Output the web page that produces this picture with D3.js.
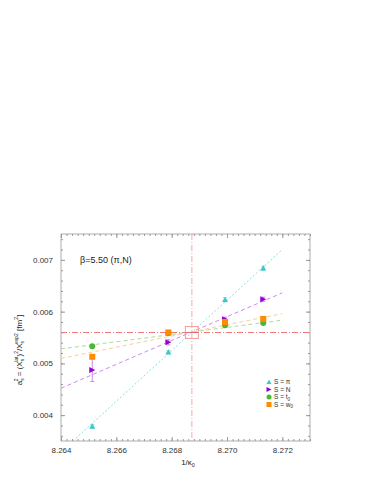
<!DOCTYPE html>
<html>
<head>
<meta charset="utf-8">
<script src="https://cdn.jsdelivr.net/npm/d3@7"></script>
<style>
  body { margin: 0; background: #fff; }
  text { font-family: "Liberation Sans", Arial, sans-serif; }
</style>
</head>
<body>
<svg id="chart" width="382" height="494"></svg>
<script>
// kappa values (1/kappa_0) of the simulations
const xs = [8.26513, 8.26788, 8.26993, 8.27131]

// a_s^2 for each choice of S, with errors
const piVals = [0.003784, 0.005216, 0.00623, 0.00684]
const piErrs = [0.00003, 0.00003, 0.00004, 0.00004]
const nVals = [0.00487, 0.005407, 0.005853, 0.00624]
const nErrs = [0.00022, 0.00005, 0.00004, 0.00004]
const t0Vals = [0.00533, 0.00558, 0.005738, 0.005782]
const t0Errs = [0.00002, 0.00002, 0.00002, 0.00002]
const w0Vals = [0.005128, 0.005598, 0.0058, 0.005859]
const w0Errs = [0.00003, 0.00002, 0.00002, 0.00002]

// linear fits: value at x = 8.264 and at x = 8.272
const fitX = [8.264, 8.272]
const piFit = [0.00329, 0.0072]
const nFit = [0.00452, 0.006363]
const t0Fit = [0.00528, 0.005834]
const w0Fit = [0.005096, 0.005962]

// crossing point
const crossX = 8.26873
const crossY = 0.005615

const xTicks = [8.264, 8.266, 8.268, 8.270, 8.272]
const yTicks = [0.004, 0.005, 0.006, 0.007]

const series = [
    {label: "S = π", sub: "", vals: piVals, errs: piErrs, fit: piFit, color: "#3cc8c8", lineColor: "#8ee0e0", dash: "2,2", shape: "tri"},
    {label: "S = N", sub: "", vals: nVals, errs: nErrs, fit: nFit, color: "#9400d3", lineColor: "#cc88ee", dash: "4,3", shape: "right"},
    {label: "S = t", sub: "0", vals: t0Vals, errs: t0Errs, fit: t0Fit, color: "#44bb33", lineColor: "#aadd99", dash: "4,3", shape: "circle"},
    {label: "S = w", sub: "0", vals: w0Vals, errs: w0Errs, fit: w0Fit, color: "#ff8c00", lineColor: "#ffcc99", dash: "4,3", shape: "square"}
]

const svg = d3.select("#chart")
const mLeft = 61, mRight = 310, mTop = 234, mBottom = 441

const x = d3.scaleLinear().domain([8.264, 8.273]).range([mLeft, mRight])
const y = d3.scaleLinear().domain([0.0035, 0.0075]).range([mBottom, mTop])

svg.append("clipPath").attr("id", "clip")
    .append("rect")
    .attr("x", mLeft).attr("y", mTop)
    .attr("width", mRight - mLeft).attr("height", mBottom - mTop)

// axes with inward ticks on all four sides
const minorX = d3.range(8.264, 8.2731, 0.0002)
const minorY = d3.range(0.0036, 0.00751, 0.0002)
const axisColor = "#999"

function styleAxis(g) {
    g.select(".domain").remove()
    g.selectAll("line").attr("stroke", axisColor)
    g.selectAll("text").attr("fill", "#333").style("font-size", "8px")
}

svg.append("g").attr("transform", `translate(0,${mBottom})`)
    .call(d3.axisBottom(x).tickValues(minorX).tickSize(-2).tickFormat(""))
    .call(styleAxis)
svg.append("g").attr("transform", `translate(0,${mBottom})`)
    .call(d3.axisBottom(x).tickValues(xTicks).tickSize(-4).tickPadding(6).tickFormat(d3.format(".3f")))
    .call(styleAxis)
svg.append("g").attr("transform", `translate(0,${mTop})`)
    .call(d3.axisTop(x).tickValues(minorX).tickSize(-2).tickFormat(""))
    .call(styleAxis)
svg.append("g").attr("transform", `translate(0,${mTop})`)
    .call(d3.axisTop(x).tickValues(xTicks).tickSize(-4).tickFormat(""))
    .call(styleAxis)

svg.append("g").attr("transform", `translate(${mLeft},0)`)
    .call(d3.axisLeft(y).tickValues(minorY).tickSize(-2).tickFormat(""))
    .call(styleAxis)
svg.append("g").attr("transform", `translate(${mLeft},0)`)
    .call(d3.axisLeft(y).tickValues(yTicks).tickSize(-4).tickPadding(8).tickFormat(d3.format(".3f")))
    .call(styleAxis)
svg.append("g").attr("transform", `translate(${mRight},0)`)
    .call(d3.axisRight(y).tickValues(minorY).tickSize(-2).tickFormat(""))
    .call(styleAxis)
svg.append("g").attr("transform", `translate(${mRight},0)`)
    .call(d3.axisRight(y).tickValues(yTicks).tickSize(-4).tickFormat(""))
    .call(styleAxis)

svg.append("rect")
    .attr("x", mLeft).attr("y", mTop)
    .attr("width", mRight - mLeft).attr("height", mBottom - mTop)
    .attr("fill", "none").attr("stroke", axisColor).attr("stroke-width", 0.8)

const plot = svg.append("g").attr("clip-path", "url(#clip)")

// crossing lines
const hy = Math.round(y(crossY)) + 0.5
plot.append("line")
    .attr("x1", mLeft).attr("x2", mRight)
    .attr("y1", hy).attr("y2", hy)
    .attr("stroke", "#f07878").attr("stroke-width", 1)
    .attr("stroke-dasharray", "6,2,1,2")
plot.append("line")
    .attr("x1", x(crossX)).attr("x2", x(crossX))
    .attr("y1", mTop).attr("y2", mBottom)
    .attr("stroke", "#f5a0a0").attr("stroke-width", 0.9)
    .attr("stroke-dasharray", "6,2,1,2")

// fit lines
series.forEach((s) => {
    plot.append("line")
        .attr("x1", x(fitX[0])).attr("y1", y(s.fit[0]))
        .attr("x2", x(fitX[1])).attr("y2", y(s.fit[1]))
        .attr("stroke", s.lineColor).attr("stroke-width", 1)
        .attr("stroke-dasharray", s.dash)
})

// crossing square
plot.append("rect")
    .attr("x", x(crossX) - 6.5).attr("y", hy - 6)
    .attr("width", 13).attr("height", 12)
    .attr("fill", "none").attr("stroke", "#f4a0a0").attr("stroke-width", 1)
plot.append("line")
    .attr("x1", x(crossX) - 6.5).attr("x2", x(crossX) + 6.5)
    .attr("y1", hy).attr("y2", hy)
    .attr("stroke", "#e06060").attr("stroke-width", 0.8)

function drawMarker(g, shape, cx, cy, color, s) {
    s = s || 3
    if (shape == "tri") {
        g.append("path").attr("d", `M${cx},${cy - s}L${cx + s},${cy + s * 0.8}L${cx - s},${cy + s * 0.8}Z`).attr("fill", color)
    } else if (shape == "right") {
        g.append("path").attr("d", `M${cx - s},${cy - s}L${cx + s},${cy}L${cx - s},${cy + s}Z`).attr("fill", color)
    } else if (shape == "circle") {
        g.append("circle").attr("cx", cx).attr("cy", cy).attr("r", s).attr("fill", color)
    } else {
        g.append("rect").attr("x", cx - s).attr("y", cy - s).attr("width", 2 * s).attr("height", 2 * s).attr("fill", color)
    }
}

// data points with error bars
series.forEach((s) => {
    const g = plot.append("g")
    s.vals.forEach((v, i) => {
        const cx = x(xs[i])
        g.append("line")
            .attr("x1", cx).attr("x2", cx)
            .attr("y1", y(v - s.errs[i])).attr("y2", y(v + s.errs[i]))
            .attr("stroke", s.lineColor).attr("stroke-width", 1)
        ;[v - s.errs[i], v + s.errs[i]].forEach((e) => {
            g.append("line")
                .attr("x1", cx - 2).attr("x2", cx + 2)
                .attr("y1", y(e)).attr("y2", y(e))
                .attr("stroke", s.lineColor).attr("stroke-width", 1)
        })
        drawMarker(g, s.shape, cx, y(v), s.color, 3)
    })
})

// legend
const leg = svg.append("g")
series.forEach((s, i) => {
    const ly = 382 + i * 7.5
    drawMarker(leg, s.shape, 269, ly, s.color, 2.5)
    const t = leg.append("text")
        .attr("x", 274).attr("y", ly + 2.2)
        .attr("fill", "#333").style("font-size", "6.5px")
        .text(s.label)
    if (s.sub) {
        t.append("tspan").attr("dy", 1.5).style("font-size", "4.5px").text(s.sub)
    }
})

// annotation
svg.append("text")
    .attr("x", 80).attr("y", 263)
    .attr("fill", "#222").style("font-size", "9px")
    .text("β=5.50 (π,N)")

// x label
const xl = svg.append("text")
    .attr("x", 188).attr("y", 465)
    .attr("text-anchor", "middle")
    .attr("fill", "#222").style("font-size", "8px")
    .text("1/κ")
xl.append("tspan").attr("dy", 2).style("font-size", "5.5px").text("0")

// y label, pieces: [text, baseline offset, small, dx]
const yParts = [
    ["a", 0, false, 0], ["s", 2, true, 0], ["2", -4, true, -3],
    [" = (X", 0, false, 0], ["s", 2, true, 0], ["lat", -4, true, -3],
    [")", 0, false, 0], ["2", -4, true, 0],
    ["/X", 0, false, 0], ["s", 2, true, 0], ["exp2", -4, true, -3],
    [" [fm", 0, false, 0], ["2", -4, true, 0], ["]", 0, false, 0]
]
const yl = svg.append("text")
    .attr("transform", "translate(22,350) rotate(-90)")
    .attr("text-anchor", "middle")
    .attr("fill", "#222").style("font-size", "8px")
let cur = 0
yParts.forEach((p) => {
    yl.append("tspan")
        .attr("dy", p[1] - cur)
        .attr("dx", p[3])
        .style("font-size", p[2] ? "5px" : "8px")
        .text(p[0])
    cur = p[1]
})
</script>
</body>
</html>
